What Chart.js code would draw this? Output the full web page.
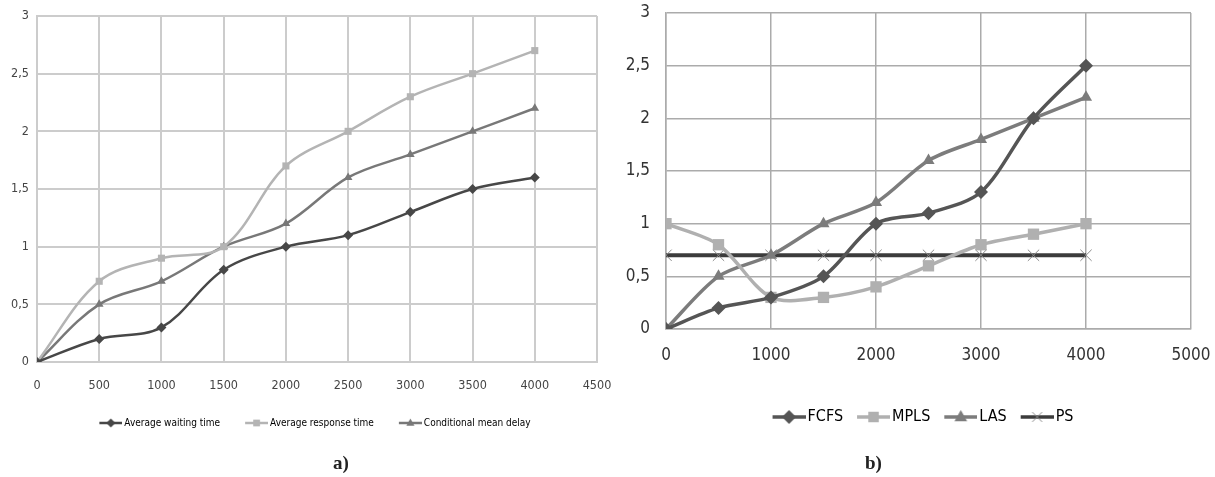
<!DOCTYPE html>
<html>
<head>
<meta charset="utf-8">
<script src="https://cdn.jsdelivr.net/npm/chart.js@4"></script>
<style>
  html, body { margin: 0; padding: 0; background: #fff; }
  body { width: 1215px; height: 477px; position: relative; overflow: hidden; }
  canvas { position: absolute; top: 0; }
  #chartA { left: 0; }
  #chartB { left: 610px; }
  .caption { position: absolute; top: 452px; font-family: 'Liberation Serif', 'DejaVu Serif', serif; font-size: 19px; font-weight: bold; color: #222; }
</style>
</head>
<body>
<canvas id="chartA" width="612" height="477"></canvas>
<canvas id="chartB" width="605" height="477"></canvas>
<div class="caption" style="left:333px">a)</div>
<div class="caption" style="left:865px">b)</div>
<script>
// x values (same for both panels)
const loads = [0, 500, 1000, 1500, 2000, 2500, 3000, 3500, 4000];

// panel a
const waitingTime = [0, 0.2, 0.3, 0.8, 1.0, 1.1, 1.3, 1.5, 1.6];
const responseTime = [0, 0.7, 0.9, 1.0, 1.7, 2.0, 2.3, 2.5, 2.7];
const meanDelay = [0, 0.5, 0.7, 1.0, 1.2, 1.6, 1.8, 2.0, 2.2];

// panel b
const fcfs = [0, 0.2, 0.3, 0.5, 1.0, 1.1, 1.3, 2.0, 2.5];
const mpls = [1.0, 0.8, 0.3, 0.3, 0.4, 0.6, 0.8, 0.9, 1.0];
const las = [0, 0.5, 0.7, 1.0, 1.2, 1.6, 1.8, 2.0, 2.2];
const ps = [0.7, 0.7, 0.7, 0.7, 0.7, 0.7, 0.7, 0.7, 0.7];

const yTicks = [0, 0.5, 1, 1.5, 2, 2.5, 3];

const FONT = "'Liberation Sans Narrow', 'DejaVu Sans Condensed', sans-serif";

function toPoints(ys) {
    return loads.map((x, i) => ({x: x, y: ys[i]}));
}

function drawMarker(ctx, shape, cx, cy, r, fill, stroke) {
    ctx.beginPath();
    if (shape === 'rectRot') {
        ctx.moveTo(cx, cy - r); ctx.lineTo(cx + r, cy); ctx.lineTo(cx, cy + r); ctx.lineTo(cx - r, cy);
        ctx.closePath(); ctx.fillStyle = fill; ctx.fill();
    } else if (shape === 'rect') {
        const s = r * 0.75;
        ctx.rect(cx - s, cy - s, 2 * s, 2 * s); ctx.fillStyle = fill; ctx.fill();
    } else if (shape === 'triangle') {
        ctx.moveTo(cx, cy - r); ctx.lineTo(cx + r * 0.9, cy + r * 0.6); ctx.lineTo(cx - r * 0.9, cy + r * 0.6);
        ctx.closePath(); ctx.fillStyle = fill; ctx.fill();
    } else if (shape === 'crossRot') {
        const s = r * 0.7;
        ctx.moveTo(cx - s, cy - s); ctx.lineTo(cx + s, cy + s);
        ctx.moveTo(cx + s, cy - s); ctx.lineTo(cx - s, cy + s);
        ctx.strokeStyle = stroke; ctx.lineWidth = 1; ctx.stroke();
    }
}

// legend key = short line with the marker in the middle.
// the legend puts the image centred in a box of width boxW, then half a font of gap;
// the picture is made wider so the key runs right up to the text
function legendIcon(ds, w, boxW, h, lw, r) {
    const c = document.createElement('canvas');
    c.width = Math.ceil(2 * w - boxW);
    c.height = h;
    const ctx = c.getContext('2d');
    const x0 = w - boxW;
    ctx.strokeStyle = ds.borderColor;
    ctx.lineWidth = lw;
    ctx.beginPath();
    ctx.moveTo(x0, h / 2);
    ctx.lineTo(x0 + w, h / 2);
    ctx.stroke();
    drawMarker(ctx, ds.pointStyle, x0 + w / 2, h / 2, r, ds.pointBackgroundColor, ds.pointBorderColor);
    return c;
}

function makeChart(id, cfg) {
    const boxW = cfg.iconW + 2 - cfg.legendFont / 2;
    const icons = cfg.datasets.map(ds => legendIcon(ds, cfg.iconW, boxW, 18, cfg.iconLine, cfg.iconR));
    const shiftLegend = {
        id: 'shiftLegend',
        afterLayout(chart) {
            chart.legend.left += cfg.legendShift;
            chart.legend.right += cfg.legendShift;
        }
    };
    return new Chart(document.getElementById(id), {
        type: 'line',
        data: {datasets: cfg.datasets},
        plugins: [shiftLegend],
        options: {
            responsive: false,
            animation: false,
            layout: {padding: cfg.padding},
            elements: {line: {tension: cfg.tension}},
            plugins: {
                tooltip: {enabled: false},
                legend: {
                    position: 'bottom',
                    labels: {
                        usePointStyle: true,
                        pointStyleWidth: boxW,
                        boxHeight: cfg.legendFont,
                        padding: cfg.legendGap,
                        color: '#333',
                        font: {family: FONT, size: cfg.legendFont},
                        generateLabels: chart => chart.data.datasets.map((ds, i) => ({
                            text: ds.label,
                            pointStyle: icons[i],
                            fillStyle: ds.borderColor,
                            strokeStyle: ds.borderColor,
                            lineWidth: 0,
                            datasetIndex: i,
                            hidden: false
                        }))
                    }
                }
            },
            scales: {
                x: {
                    type: 'linear',
                    min: 0,
                    max: cfg.xMax,
                    afterFit: s => { s.height = cfg.xAxisH; s.paddingLeft = 0; s.paddingRight = 0; },
                    ticks: {
                        stepSize: cfg.xStep,
                        padding: cfg.xPad,
                        color: cfg.tickColor,
                        font: {family: FONT, size: cfg.tickFont},
                        maxRotation: 0,
                        callback: v => String(v)
                    },
                    grid: {color: cfg.gridColor, lineWidth: cfg.gridWidth, drawTicks: false},
                    border: {color: cfg.gridColor, width: cfg.gridWidth}
                },
                y: {
                    min: 0,
                    max: 3,
                    afterFit: s => { s.width = cfg.yAxisW; s.paddingTop = 0; s.paddingBottom = 0; },
                    afterBuildTicks: s => { s.ticks = yTicks.map(v => ({value: v})); },
                    ticks: {
                        padding: cfg.yPad,
                        color: cfg.tickColor,
                        font: {family: FONT, size: cfg.tickFont},
                        callback: v => String(v).replace('.', ',')
                    },
                    grid: {color: cfg.gridColor, lineWidth: cfg.gridWidth, drawTicks: false},
                    border: {color: cfg.gridColor, width: cfg.gridWidth}
                }
            }
        }
    });
}

function series(label, ys, color, shape, r, lw, markerColor) {
    return {
        label: label,
        data: toPoints(ys),
        borderColor: color,
        borderWidth: lw,
        pointStyle: shape,
        pointRadius: r,
        pointBackgroundColor: markerColor || color,
        pointBorderColor: markerColor || color,
        pointBorderWidth: shape === 'crossRot' ? 1 : 0,
        fill: false
    };
}

makeChart('chartA', {
    datasets: [
        series('Average waiting time', waitingTime, '#474747', 'rectRot', 5, 2.5),
        series('Average response time', responseTime, '#b4b4b4', 'rect', 5, 2.5),
        series('Conditional mean delay', meanDelay, '#787878', 'triangle', 5, 2.5)
    ],
    tension: 0.35,
    padding: {left: 5, right: 15, top: 16, bottom: 39},
    xMax: 4500, xStep: 500,
    xAxisH: 31, yAxisW: 32,
    xPad: 16, yPad: 8,
    tickFont: 12.5, tickColor: '#444',
    gridColor: '#cccccc', gridWidth: 2,
    legendFont: 10, legendGap: 25, iconW: 23, iconLine: 2.5, iconR: 4.5,
    legendShift: 14
});

makeChart('chartB', {
    datasets: [
        series('FCFS', fcfs, '#555555', 'rectRot', 7, 3.5),
        series('MPLS', mpls, '#b0b0b0', 'rect', 8, 3.5),
        series('LAS', las, '#7c7c7c', 'triangle', 7, 3.5),
        series('PS', ps, '#3c3c3c', 'crossRot', 8, 4, '#8a8a8a')
    ],
    tension: 0.3,
    padding: {left: 6, right: 24, top: 13, bottom: 42},
    xMax: 5000, xStep: 1000,
    xAxisH: 66, yAxisW: 50,
    xPad: 16, yPad: 16,
    tickFont: 17, tickColor: '#333',
    gridColor: '#ababab', gridWidth: 1.5,
    legendFont: 16, legendGap: 14, iconW: 33, iconLine: 3.5, iconR: 7,
    legendShift: 19.5
});
</script>
</body>
</html>
